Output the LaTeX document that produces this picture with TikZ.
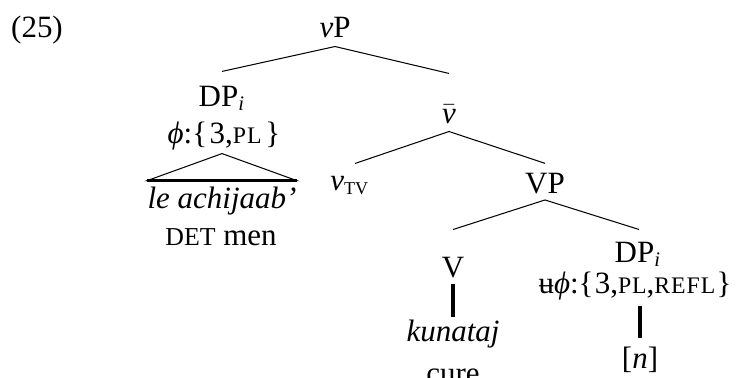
\documentclass[tikz,border=0pt]{standalone}
\usepackage{fontspec}
\setmainfont{Liberation Serif}
\usetikzlibrary{positioning}
\newcommand\smcaps[1]{{\fontsize{9.2pt}{11pt}\selectfont\addfontfeature{LetterSpace=4}#1}}
\newcommand\glosscaps[1]{{\fontsize{10pt}{12pt}\selectfont #1}}

\begin{document}
\begin{tikzpicture}[% styles used in the tree
      x = 0.3875pt, y = -0.3875pt,
lbl/.style = {anchor=base, inner sep=0pt,
              text height=8pt, text depth=2.5pt,
              font=\fontsize{12pt}{14pt}\selectfont},
edge/.style = {draw, thin},
stem/.style = {draw, very thick}
                    ]
	\useasboundingbox (0,0) rectangle (743,377);
	% example number
	\node[lbl] (ex) at (37,38) {(25)};

	% top and the subject DP
	\node[lbl] (vP)    at (335,38)  {\textit{v}P};
	\node[lbl] (DPi)   at (222,106) {DP\textsubscript{\textit{i}}};
	\node[lbl] (phi)   at (224,143) {\textit{ϕ}:\{\kern1pt3,\smcaps{PL}\kern1.5pt\}};
	\node[lbl] (le)    at (222,208) {\textit{le achijaab’}};
	\node[lbl] (det)   at (221,245) {\glosscaps{DET} men};

	% v-bar and below
	\node[lbl] (vbar)  at (449,123) {$\bar{\mbox{\itshape v}}$};
	\node[lbl] (vTV)   at (350,190) {\textit{v}\textsubscript{\fontsize{7pt}{8pt}\selectfont TV}};
	\node[lbl] (VP)    at (545,193) {VP};
	\node[lbl] (V)     at (453,277) {V};
	\node[lbl] (kun)   at (453,341) {\textit{kunataj}};
	\node[lbl] (cure)  at (453,383) {cure};
	\node[lbl] (DPo)   at (638,262) {DP\textsubscript{\textit{i}}};
	\node[lbl] (uphi)  at (635,293) {ʉ\textit{ϕ}:\{\kern0.5pt3,\smcaps{PL},\smcaps{REFL}\kern0.5pt\}};
	\node[lbl] (n)     at (640,368) {[\textit{n}]};

	% branches
	\path[edge] ([yshift=-0.6pt]vP.south) -- ([yshift=5.2pt]DPi.north);
	\path[edge] ([yshift=-0.6pt]vP.south) -- ([yshift=11pt]vbar.north);
	\path[edge] ([yshift=-0.6pt]vbar.south) -- ([xshift=2pt,yshift=2.1pt]vTV.north);
	\path[edge] ([yshift=-0.6pt]vbar.south) -- ([yshift=3.3pt]VP.north);
	\path[edge] (VP.south) -- ([yshift=10.2pt]V.north);
	\path[edge] (VP.south) -- ([xshift=0.4pt,yshift=4.4pt]DPo.north);

	% triangle over the subject
	\path[edge] ([yshift=-1.4pt]phi.south -| le.north) -- ([yshift=2.4pt]le.north west)
	            -- ([yshift=2.4pt]le.north east) -- cycle;
	\path[stem] ([yshift=2.4pt]le.north west) -- ([yshift=2.4pt]le.north east);

	% unary stems
	\path[stem] (V.south) -- ([yshift=1pt]kun.north);
	\path[stem] ([yshift=-2.5pt]n.north |- uphi.south) -- ([yshift=3.6pt]n.north);
\end{tikzpicture}
\end{document}
